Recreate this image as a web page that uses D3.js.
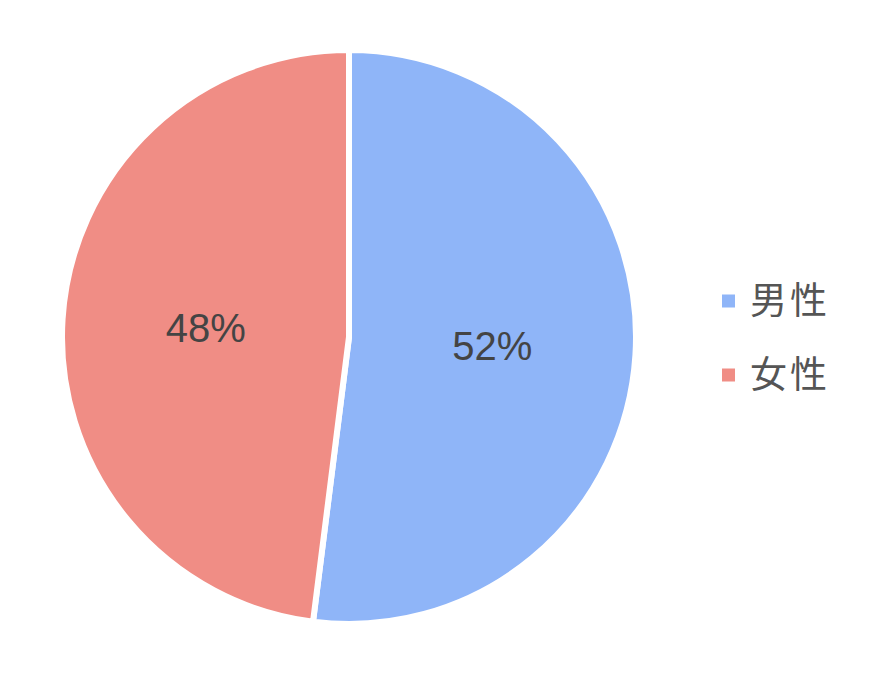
<!DOCTYPE html>
<html>
<head>
<meta charset="utf-8">
<script src="https://cdn.jsdelivr.net/npm/d3@7"></script>
<style>
  body { margin: 0; background: #fff; }
  svg { display: block; font-family: "Liberation Sans", Arial, "Noto Sans CJK JP", sans-serif; }
</style>
</head>
<body>
<div class="chart"></div>
<script>
// Data
var labels = ["男性", "女性"];
var values = [52, 48];
var colors = ["#8fb5f8", "#f08d85"];

var svgWidth = 877;
var svgHeight = 675;
var cx = 349, cy = 337, radius = 287;

var svg = d3.select(".chart")
    .append("svg")
    .attr("width", svgWidth)
    .attr("height", svgHeight);

var data = labels.map(function (d, i) {
    return { label: d, value: values[i], color: colors[i] };
});

var pie = d3.pie().sort(null).value(function (d) { return d.value; });
var arc = d3.arc().innerRadius(0).outerRadius(radius);
var labelArc = d3.arc().innerRadius(radius * 0.5).outerRadius(radius * 0.5);

var total = d3.sum(values);

var g = svg.append("g")
    .attr("transform", "translate(" + cx + "," + cy + ")");

var slices = g.selectAll(".slice")
    .data(pie(data))
    .enter()
    .append("g")
    .attr("class", "slice");

slices.append("path")
    .attr("d", arc)
    .attr("fill", function (d) { return d.data.color; })
    .attr("stroke", "#fff")
    .attr("stroke-width", 6)
    .attr("stroke-linejoin", "round");

slices.append("text")
    .attr("transform", function (d) { return "translate(" + labelArc.centroid(d) + ")"; })
    .attr("text-anchor", "middle")
    .attr("dy", "0.36em")
    .attr("font-size", 40)
    .attr("fill", "#444")
    .text(function (d) { return Math.round(d.data.value / total * 100) + "%"; });

// Legend
var legend = svg.append("g")
    .attr("transform", "translate(722, 301)");

var items = legend.selectAll(".item")
    .data(data)
    .enter()
    .append("g")
    .attr("class", "item")
    .attr("transform", function (d, i) { return "translate(0," + i * 74 + ")"; });

items.append("rect")
    .attr("x", 0)
    .attr("y", -6.5)
    .attr("width", 13)
    .attr("height", 13)
    .attr("fill", function (d) { return d.color; });

items.append("text")
    .attr("x", 28)
    .attr("dy", "0.36em")
    .attr("font-size", 37)
    .attr("letter-spacing", 3)
    .attr("font-family", "'Noto Sans CJK JP', sans-serif")
    .attr("fill", "#555")
    .text(function (d) { return d.label; });
</script>
</body>
</html>
